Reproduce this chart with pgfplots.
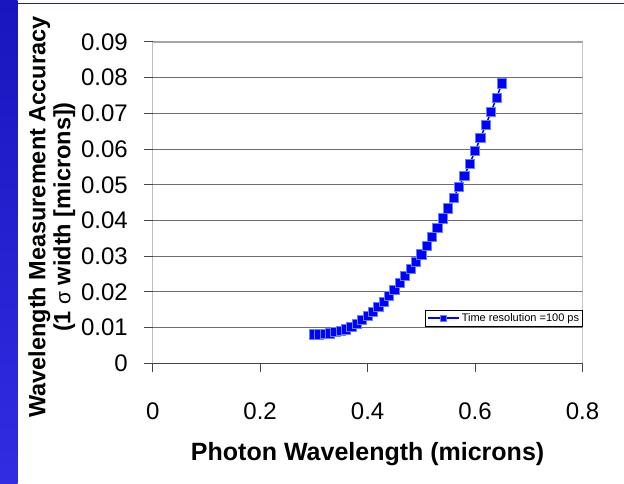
\documentclass[border=0pt]{standalone}
\usepackage{pgfplots}
\pgfplotsset{compat=1.18}
\usepackage{pgfplotstable}
\usepackage{fontspec}
\setmainfont{Liberation Sans}
\definecolor{stripTop}{RGB}{24,22,190}
\definecolor{stripBot}{RGB}{50,44,226}
\definecolor{topLine}{RGB}{30,30,170}
\definecolor{markEdge}{RGB}{100,130,255}
\definecolor{gridC}{RGB}{110,110,110}
\definecolor{frameC}{RGB}{165,165,165}
\definecolor{axisC}{RGB}{70,70,70}
\pgfplotstableread{
x y
0.30 0.0081
0.31 0.0081
0.32 0.0082
0.33 0.0084
0.34 0.0087
0.35 0.0090
0.36 0.0095
0.37 0.0102
0.38 0.0111
0.39 0.0121
0.40 0.0132
0.41 0.0144
0.42 0.0158
0.43 0.0172
0.44 0.0188
0.45 0.0206
0.46 0.0225
0.47 0.0244
0.48 0.0264
0.49 0.0284
0.50 0.0305
0.51 0.0328
0.52 0.0353
0.53 0.0379
0.54 0.0406
0.55 0.0434
0.56 0.0463
0.57 0.0494
0.58 0.0526
0.59 0.0559
0.60 0.0594
0.61 0.0631
0.62 0.0668
0.63 0.0705
0.64 0.0744
0.65 0.0784
}\datatable
\begin{document}
\begin{tikzpicture}[x=1pt,y=1pt]
\path[use as bounding box] (0,0) rectangle (624,484);
\fill[white] (0,0) rectangle (624,484);
\shade[top color=stripTop, bottom color=stripBot] (0,0) rectangle (17.7,484);
\draw[topLine, line width=1.5pt] (17.7,480.5) -- (624,480.5);
\begin{axis}[
  at={(152.7pt,120.7pt)}, anchor=south west,
  scale only axis, width=429.8pt, height=321.3pt,
  xmin=0, xmax=0.8, ymin=0, ymax=0.09,
  scaled y ticks=false, scaled x ticks=false,
  xtick={0,0.2,0.4,0.6,0.8},
  xticklabels={0,0.2,0.4,0.6,0.8},
  ytick={0,0.01,0.02,0.03,0.04,0.05,0.06,0.07,0.08,0.09},
  yticklabels={0,0.01,0.02,0.03,0.04,0.05,0.06,0.07,0.08,0.09},
  ymajorgrids, grid style={gridC, line width=1pt},
  axis line style={draw=none},
  tick align=outside, major tick length=9pt,
  tick style={axisC, line width=1pt},
  xtick pos=bottom, ytick pos=left,
  ticklabel style={font=\fontsize{24}{24}\selectfont},
  xticklabel style={anchor=base, yshift=-47.7pt},
  yticklabel style={anchor=east, inner sep=0pt, xshift=-15.7pt},
  xlabel={Photon Wavelength (microns)},
  xlabel style={font=\bfseries\fontsize{25}{25}\selectfont, at={(axis description cs:0.5,-0.303)}, anchor=base},
  ylabel={Wavelength Measurement Accuracy\\(1 {\mdseries\fontsize{21}{21}\selectfont σ} width [microns])},
  ylabel style={font=\bfseries\fontsize{23.5}{25}\selectfont, align=center, at={(axis description cs:-0.2346,0.455)}, anchor=center},
  legend style={at={(axis description cs:1,0.113)}, anchor=south east, draw=black, line width=0.8pt,
    font=\fontsize{11}{11}\selectfont, inner xsep=1pt, inner ysep=1.5pt,
    /tikz/every even column/.style={column sep=1pt}},
  legend cell align=left,
  legend image code/.code={\draw[line width=2pt, mark repeat=2, mark phase=2, mark size=2.6pt] plot coordinates {(0pt,0pt) (15.5pt,0pt) (31pt,0pt)};},
]
\addplot[blue, line width=1.5pt, mark=square*, mark size=4.6pt,
  mark options={fill=blue, draw=markEdge, line width=0.8pt, solid}] table[x=x,y=y] {\datatable};
\addlegendentry{Time resolution =100 ps}
\draw[frameC, line width=1.5pt] (rel axis cs:0,1) -- (rel axis cs:1,1) -- (rel axis cs:1,0);
\draw[axisC, line width=1pt] (rel axis cs:0,1) -- (rel axis cs:0,0) -- (rel axis cs:1,0);
\end{axis}
\end{tikzpicture}
\end{document}
